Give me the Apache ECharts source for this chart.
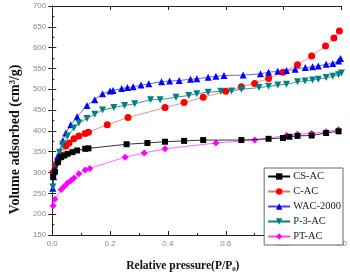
<!DOCTYPE html>
<html><head><meta charset="utf-8">
<script src="https://cdn.jsdelivr.net/npm/echarts@6/dist/echarts.min.js"></script>
<style>html,body{margin:0;padding:0;background:#fff}#c{width:350px;height:277px}</style>
</head><body><div id="c"></div>
<script>
const seriesNames = ["CS-AC","C-AC","WAC-2000","P-3-AC","PT-AC"];
const csAC = [[0.003,290],[0.009,302],[0.02,325],[0.031,337],[0.042,341],[0.053,345],[0.07,349],[0.086,353],[0.114,357],[0.125,358],[0.257,368],[0.329,371],[0.39,374],[0.456,376],[0.522,378],[0.654,378],[0.748,381],[0.798,383],[0.82,386],[0.848,388],[0.897,389],[0.947,395],[0.99,399]];
const cAC = [[0.003,300],[0.01,318],[0.02,330],[0.031,341],[0.047,364],[0.058,371],[0.075,381],[0.092,388],[0.114,394],[0.125,397],[0.19,415],[0.262,432],[0.39,456],[0.456,468],[0.522,481],[0.6,495],[0.654,506],[0.7,514],[0.748,526],[0.798,541],[0.848,559],[0.897,580],[0.945,604],[0.974,623],[0.993,640]];
const wac2000 = [[0.002,262],[0.005,290],[0.009,310],[0.02,341],[0.036,376],[0.047,395],[0.064,415],[0.086,434],[0.12,461],[0.147,475],[0.174,489],[0.2,496],[0.21,497],[0.24,502],[0.26,504],[0.28,506],[0.307,510],[0.334,513],[0.378,518],[0.406,520],[0.439,521],[0.478,524],[0.5,525],[0.539,529],[0.566,531],[0.594,533],[0.66,534],[0.72,537],[0.748,541],[0.78,543],[0.81,545],[0.84,548],[0.875,552],[0.9,554],[0.92,556],[0.947,560],[0.97,562],[0.99,568],[0.997,574]];
const p3AC = [[0.002,265],[0.006,290],[0.014,318],[0.025,349],[0.036,368],[0.053,388],[0.075,407],[0.092,419],[0.12,430],[0.147,440],[0.174,450],[0.213,456],[0.25,461],[0.285,465],[0.34,475],[0.373,475],[0.428,481],[0.472,485],[0.5,489],[0.539,493],[0.583,495],[0.62,496],[0.654,500],[0.715,504],[0.748,507],[0.78,510],[0.81,512],[0.848,518],[0.874,520],[0.9,522],[0.92,524],[0.947,528],[0.97,531],[0.99,535],[1.0,539]];
const ptAC = [[0.003,220],[0.009,236],[0.031,259],[0.042,267],[0.053,275],[0.064,280],[0.075,287],[0.092,297],[0.114,306],[0.13,310],[0.252,337],[0.318,347],[0.39,357],[0.566,371],[0.7,378],[0.81,389],[0.848,392],[0.897,394],[0.947,398],[0.99,403]];
const seriesData = [csAC, cAC, wac2000, p3AC, ptAC];
const colors = ["#000000","#ff0000","#0000ff","#008080","#ff00ff"];
const lineColors = ["#000000","#f07070","#4040ff","#008080","#ff40ff"];
const symbols = ["rect","circle","triangle","triangle","diamond"];
const rotates = [0,0,0,180,0];
const sizes = [6,7,7,7,7];

const chart = echarts.init(document.getElementById('c'));
const labStyle = {color:'#888', fontSize:8, fontFamily:'Liberation Sans, Arial, sans-serif'};
const serif = 'Liberation Serif, Times New Roman, serif';
chart.setOption({
  animation:false,
  backgroundColor:'#fff',
  grid:{left:44,right:4,top:6,bottom:35},
  legend:{
    orient:'vertical', right:7, top:168,
    data:seriesNames,
    backgroundColor:'#fff', borderColor:'#666', borderWidth:1,
    padding:[3,2,3,3], itemGap:4, itemWidth:22, itemHeight:8,
    textStyle:{fontFamily:serif, fontSize:10.5, color:'#222', padding:[0,0,0,-2]}
  },
  xAxis:[{
    type:'value', min:0, max:1, interval:0.2,
    name:'Relative pressure(P/P₀)', nameLocation:'middle', nameGap:25,
    nameTextStyle:{fontFamily:serif, fontWeight:'bold', fontSize:11.5, color:'#111', padding:[0,28,0,0]},
    axisLine:{lineStyle:{color:'#222'}},
    axisTick:{inside:true, length:4, lineStyle:{color:'#222'}},
    minorTick:{show:true, splitNumber:2, length:2, lineStyle:{color:'#222'}},
    axisLabel:Object.assign({formatter:v=>v.toFixed(1), margin:5}, labStyle),
    splitLine:{show:false}
  },{
    type:'value', min:0, max:1, interval:0.2, position:'top',
    axisLine:{lineStyle:{color:'#222'}},
    axisTick:{inside:true, length:4, lineStyle:{color:'#222'}},
    axisLabel:{show:false}, splitLine:{show:false}
  }],
  yAxis:[{
    type:'value', min:150, max:700, interval:50,
    name:'Volume adsorbed (cm³/g)', nameLocation:'middle', nameGap:30,
    nameTextStyle:{fontFamily:serif, fontWeight:'bold', fontSize:14, color:'#111', padding:[0,38,0,0]},
    axisLine:{lineStyle:{color:'#222'}},
    axisTick:{inside:true, length:4, lineStyle:{color:'#222'}},
    minorTick:{show:true, splitNumber:2, length:2, lineStyle:{color:'#222'}},
    axisLabel:Object.assign({margin:6}, labStyle),
    splitLine:{show:false}
  },{
    type:'value', min:150, max:700, interval:50, position:'right',
    axisLine:{lineStyle:{color:'#222'}},
    axisTick:{inside:true, length:4, lineStyle:{color:'#222'}},
    axisLabel:{show:false}, splitLine:{show:false}
  }],
  series: seriesNames.map((n,i)=>({
    name:n, type:'line', data:seriesData[i],
    symbol:symbols[i], symbolRotate:rotates[i], symbolSize:sizes[i],
    itemStyle:{color:colors[i]},
    lineStyle:{color:lineColors[i], width:0.8},
    z: i===0 ? 5 : 2
  }))
});
</script></body></html>
